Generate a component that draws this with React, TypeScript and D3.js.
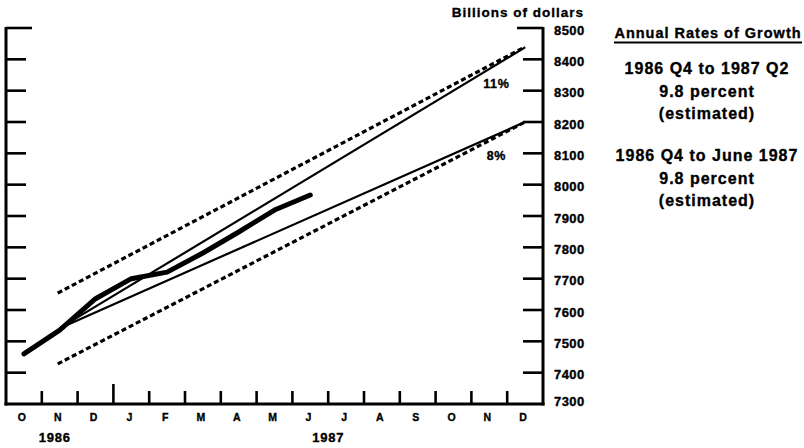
import * as d3 from "d3";
import { useEffect, useRef } from "react";

const monthKeys = [
	"1986-10", "1986-11", "1986-12",
	"1987-01", "1987-02", "1987-03", "1987-04", "1987-05", "1987-06",
	"1987-07", "1987-08", "1987-09", "1987-10", "1987-11", "1987-12",
];
const monthLabels = ["O", "N", "D", "J", "F", "M", "A", "M", "J", "J", "A", "S", "O", "N", "D"];
const yTicks = [7300, 7400, 7500, 7600, 7700, 7800, 7900, 8000, 8100, 8200, 8300, 8400, 8500];

// thick line: monthly level, Oct 1986 .. Jun 1987
const actualMonths = ["1986-10", "1986-11", "1986-12", "1987-01", "1987-02", "1987-03", "1987-04", "1987-05", "1987-06"];
const actualValues = [7460, 7536, 7636, 7700, 7721, 7782, 7849, 7919, 7967];

// growth cone (solid) and range (dashed), from Nov 1986 to Dec 1987
const coneStart = "1986-11";
const coneEnd = "1987-12";
const growthLabels = ["11%", "8%"];
const growthStart = [7542, 7542];
const growthEnd = [8438, 8200];
const growthLabelValue = [8322, 8090];
const rangeStart = [7654, 7428];
const rangeEnd = [8440, 8200];

const sideTitle = "Annual Rates of Growth";
const sideBlocks = [
	["1986 Q4 to 1987 Q2", "9.8 percent", "(estimated)"],
	["1986 Q4 to June 1987", "9.8 percent", "(estimated)"],
];

const FONT = "'Liberation Sans', Arial, sans-serif";

function App() {
	const ref = useRef<SVGSVGElement>(null);

	useEffect(() => {
		const svg = d3.select(ref.current);
		svg.selectAll("*").remove();

		const left = 6;
		const right = 543;
		const top = 28;
		const bottom = 404;

		const x = d3.scaleBand().domain(monthKeys).range([left, right]).padding(0);
		const xc = (k: string) => (x(k) as number) + x.bandwidth() / 2;
		const y = d3.scaleLinear().domain([7300, 8500]).range([bottom, top]);

		// heavy type, like the scanned original
		const label = (sel: any, size: number, spacing: number) =>
			sel
				.style("font-family", FONT)
				.style("font-weight", "bold")
				.style("font-size", size + "px")
				.style("letter-spacing", spacing + "px")
				.attr("fill", "#000")
				.attr("stroke", "#000")
				.attr("stroke-width", 0.35);

		// axes frame
		svg.append("line")
			.attr("x1", left).attr("x2", left).attr("y1", top - 1).attr("y2", bottom + 1.5)
			.attr("stroke", "#000").attr("stroke-width", 3);
		svg.append("line")
			.attr("x1", right).attr("x2", right).attr("y1", top - 1).attr("y2", bottom + 1.5)
			.attr("stroke", "#000").attr("stroke-width", 3);
		svg.append("line")
			.attr("x1", left - 1.5).attr("x2", right + 1.5).attr("y1", bottom).attr("y2", bottom)
			.attr("stroke", "#000").attr("stroke-width", 3);

		// y ticks, both sides
		yTicks.forEach((v) => {
			if (v === 7300) return;
			const len = v === 8500 ? 26 : 20;
			svg.append("line")
				.attr("x1", left).attr("x2", left + len).attr("y1", y(v)).attr("y2", y(v))
				.attr("stroke", "#000").attr("stroke-width", 2.6);
			svg.append("line")
				.attr("x1", right - len).attr("x2", right).attr("y1", y(v)).attr("y2", y(v))
				.attr("stroke", "#000").attr("stroke-width", 2.6);
		});
		label(
			svg.append("g")
				.selectAll("text")
				.data(yTicks)
				.enter()
				.append("text")
				.attr("x", 554)
				.attr("y", (d: number) => y(d) + (d === 7300 ? -3 : 2))
				.attr("dominant-baseline", "central")
				.text((d: number) => d),
			13,
			0.4
		);

		label(
			svg.append("text")
				.attr("x", 584)
				.attr("y", 17)
				.attr("text-anchor", "end")
				.text("Billions of dollars"),
			13.5,
			1
		);

		// month ticks
		monthKeys.slice(1).forEach((k) => {
			const xx = x(k) as number;
			const h = k === "1987-01" ? 20 : 13;
			svg.append("line")
				.attr("x1", xx).attr("x2", xx).attr("y1", bottom).attr("y2", bottom - h)
				.attr("stroke", "#000").attr("stroke-width", 2.6);
		});
		label(
			svg.append("g")
				.selectAll("text")
				.data(monthKeys)
				.enter()
				.append("text")
				.attr("x", (d: string) => xc(d) - 2)
				.attr("y", 421)
				.attr("text-anchor", "middle")
				.text((_: string, i: number) => monthLabels[i]),
			10.5,
			0
		);
		label(
			svg.append("text")
				.attr("x", xc("1986-11") - 5)
				.attr("y", 442)
				.attr("text-anchor", "middle")
				.text("1986"),
			13,
			0.8
		);
		label(
			svg.append("text")
				.attr("x", x("1987-07") as number)
				.attr("y", 442)
				.attr("text-anchor", "middle")
				.text("1987"),
			13,
			0.8
		);

		// dashed range lines
		rangeStart.forEach((s, i) => {
			svg.append("line")
				.attr("x1", xc(coneStart) - 2).attr("y1", y(s))
				.attr("x2", xc(coneEnd)).attr("y2", y(rangeEnd[i]))
				.attr("stroke", "#000").attr("stroke-width", 3.2)
				.attr("stroke-dasharray", "5,3");
		});

		// growth cone lines
		growthStart.forEach((s, i) => {
			svg.append("line")
				.attr("x1", xc(coneStart)).attr("y1", y(s))
				.attr("x2", xc(coneEnd)).attr("y2", y(growthEnd[i]))
				.attr("stroke", "#000").attr("stroke-width", 2.2);
			label(
				svg.append("text")
					.attr("x", xc("1987-11") + 7)
					.attr("y", y(growthLabelValue[i]))
					.attr("dominant-baseline", "central")
					.attr("text-anchor", "middle")
					.text(growthLabels[i]),
				12.5,
				0.6
			);
		});

		// actual level
		const line = d3
			.line<number>()
			.x((_, i) => xc(actualMonths[i]))
			.y((d) => y(d));
		svg.append("path")
			.attr("d", line(actualValues))
			.attr("fill", "none")
			.attr("stroke", "#000")
			.attr("stroke-width", 5)
			.attr("stroke-linecap", "round")
			.attr("stroke-linejoin", "round");

		// side notes
		const cx = 708;
		label(
			svg.append("text")
				.attr("x", cx)
				.attr("y", 38)
				.attr("text-anchor", "middle")
				.text(sideTitle),
			14.5,
			1
		);
		svg.append("line")
			.attr("x1", 614).attr("x2", 802).attr("y1", 42.5).attr("y2", 42.5)
			.attr("stroke", "#000").attr("stroke-width", 2);

		const blockTop = [74, 161];
		sideBlocks.forEach((lines, b) => {
			lines.forEach((t, j) => {
				label(
					svg.append("text")
						.attr("x", cx - 1)
						.attr("y", blockTop[b] + j * 22.5)
						.attr("text-anchor", "middle")
						.text(t),
					16,
					1
				);
			});
		});
	}, []);

	return (
		<svg
			ref={ref}
			width={804}
			height={448}
			style={{ position: "absolute", left: 0, top: 0, background: "#fff" }}
		/>
	);
}

export default App;
